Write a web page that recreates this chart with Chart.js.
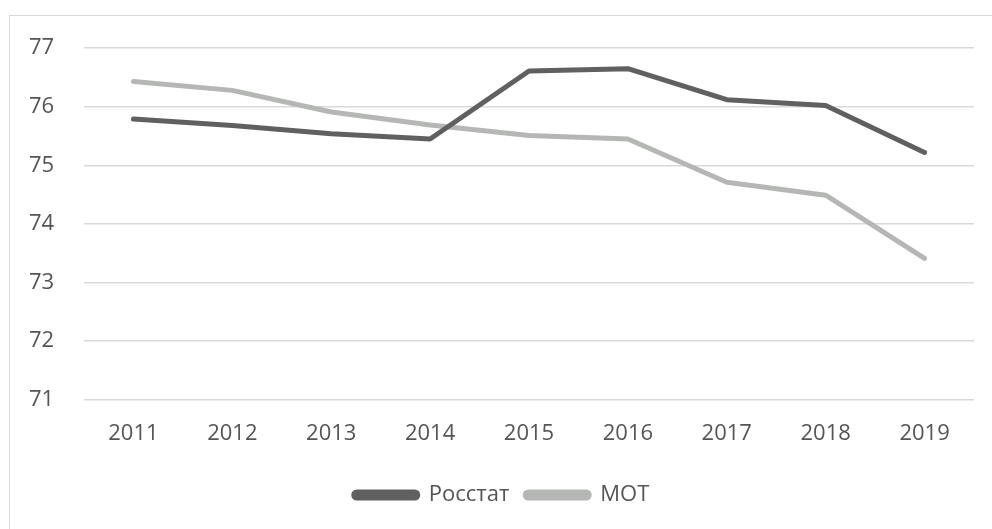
<!DOCTYPE html>
<html>
<head>
<meta charset="utf-8">
<style>
  html, body { margin: 0; padding: 0; background: #fff; overflow: hidden; }
  #frame { position: absolute; left: 9px; top: 15px; width: 990px; height: 520px;
           border: 1px solid #d9d9d9; box-sizing: border-box; }
  #wrap { position: absolute; left: 0; top: 0; width: 983px; height: 514px; }
</style>
</head>
<body>
<div id="frame"><div id="wrap"><canvas id="lifeChart"></canvas></div></div>
<script src="https://cdn.jsdelivr.net/npm/chart.js"></script>
<script>
  const years = ['2011', '2012', '2013', '2014', '2015', '2016', '2017', '2018', '2019'];
  const rosstat = [75.79, 75.68, 75.54, 75.45, 76.61, 76.65, 76.12, 76.02, 75.22];
  const mot = [76.43, 76.28, 75.91, 75.69, 75.51, 75.45, 74.71, 74.49, 73.41];
  const yTicks = [71, 72, 73, 74, 75, 76, 77];

  const textColor = '#555555';
  const gridColor = '#d9d9d9';

  Chart.defaults.font.family = '"Open Sans", "Noto Sans", sans-serif';
  Chart.defaults.color = textColor;

  var ctx = document.getElementById('lifeChart');
  var lifeChart = new Chart(ctx, {
    type: 'line',
    data: {
      labels: years,
      datasets: [
        {
          label: 'Росстат',
          data: rosstat,
          borderColor: '#606060',
          backgroundColor: '#606060',
          borderWidth: 5,
          pointRadius: 0,
          borderCapStyle: 'round',
          borderJoinStyle: 'round',
          tension: 0
        },
        {
          label: 'МОТ',
          data: mot,
          borderColor: '#b5b7b5',
          backgroundColor: '#b5b7b5',
          borderWidth: 5,
          pointRadius: 0,
          borderCapStyle: 'round',
          borderJoinStyle: 'round',
          tension: 0
        }
      ]
    },
    options: {
      responsive: true,
      maintainAspectRatio: false,
      animation: false,
      layout: { padding: { left: 19, right: 19, top: 10, bottom: 14 } },
      plugins: {
        tooltip: { enabled: false },
        legend: {
          position: 'bottom',
          labels: {
            boxWidth: 64,
            boxHeight: 6,
            useBorderRadius: true,
            borderRadius: 3,
            padding: 16,
            font: { size: 22 },
            color: textColor
          }
        }
      },
      scales: {
        x: {
          offset: true,
          grid: { display: false, drawTicks: false },
          border: { display: false },
          ticks: { padding: 21, font: { size: 22 }, color: textColor, maxRotation: 0 }
        },
        y: {
          min: 71,
          max: 77,
          afterBuildTicks: function (scale) {
            scale.ticks = yTicks.map(v => ({ value: v }));
          },
          afterFit: function (scale) { scale.width = 55; },
          grid: { color: gridColor, lineWidth: 1.5, drawTicks: false },
          border: { display: false },
          ticks: { padding: 19, crossAlign: 'far', font: { size: 22 }, color: textColor }
        }
      }
    }
  });
</script>
</body>
</html>
